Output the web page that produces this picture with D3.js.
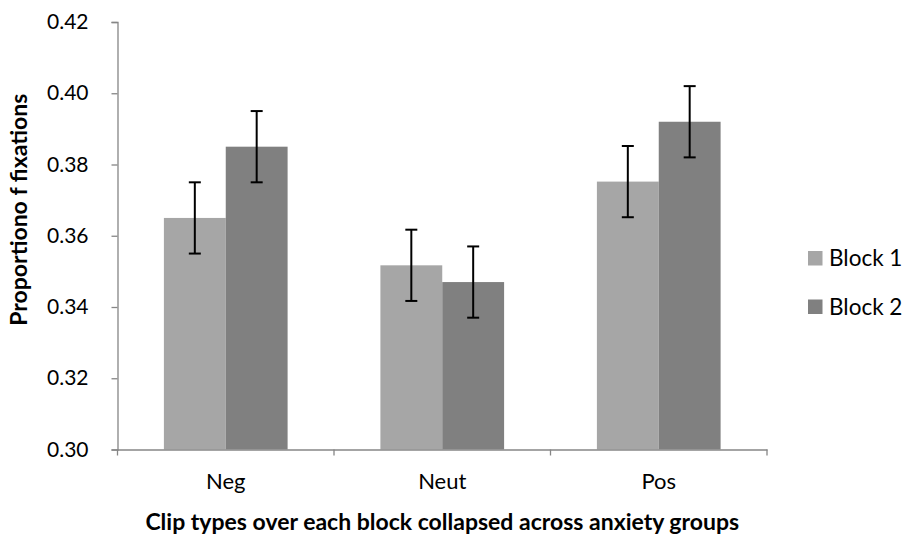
<html>
<script src="https://d3js.org/d3.v7.min.js"></script>
<style>
body{margin:0;background:#fff;}
text{font-family:Lato, "Open Sans", sans-serif;}
</style>
<body>
<div class="chart"></div>
</body>
<script>
const categories = ['Neg', 'Neut', 'Pos'];
const seriesNames = ['Block 1', 'Block 2'];
const block1 = [0.365, 0.3517, 0.3752];
const block2 = [0.385, 0.347, 0.392];
const errors1 = [0.010, 0.010, 0.010];
const errors2 = [0.010, 0.010, 0.010];
const yTicks = [0.30, 0.32, 0.34, 0.36, 0.38, 0.40, 0.42];
const colors = ['#a6a6a6', '#808080'];

const width = 911;
const height = 537;
const margin = {left: 117.5, right: 144, top: 22, bottom: 88};

const svg = d3.select('.chart').append('svg')
    .attr('width', width)
    .attr('height', height);

const x = d3.scaleBand()
    .domain(categories)
    .range([margin.left, width - margin.right]);

const inner = d3.scaleBand()
    .domain(seriesNames)
    .range([0, x.bandwidth()])
    .paddingOuter(0.75)
    .paddingInner(0);

const y = d3.scaleLinear()
    .domain([0.30, 0.42])
    .range([height - margin.bottom + 0.5, margin.top]);

const series = seriesNames.map((name, i) => ({
    name: name,
    color: colors[i],
    values: categories.map((c, j) => ({
        cat: c,
        value: [block1, block2][i][j],
        err: [errors1, errors2][i][j]
    }))
}));

// bars
svg.selectAll('g.series')
    .data(series)
    .enter()
    .append('g')
        .attr('class', 'series')
    .each(function(s){
        const g = d3.select(this);
        g.selectAll('rect')
            .data(s.values)
            .enter()
            .append('rect')
                .attr('x', d => x(d.cat) + inner(s.name))
                .attr('width', inner.bandwidth())
                .attr('y', d => y(d.value))
                .attr('height', d => y(0.30) - y(d.value))
                .attr('fill', s.color);
    });

// axes
const yAxis = d3.axisLeft(y)
    .tickValues(yTicks)
    .tickFormat(d3.format('.2f'))
    .tickSize(6)
    .tickPadding(23);

svg.append('g')
    .attr('transform', `translate(${margin.left},0)`)
    .call(yAxis)
    .call(g => {
        g.select('.domain').attr('stroke', '#868686').attr('stroke-width', 1.3);
        g.selectAll('.tick line').attr('stroke', '#868686').attr('stroke-width', 1.3);
        g.selectAll('.tick text')
            .attr('font-size', 21)
            .attr('fill', '#000')
            .style('font-family', 'Lato, sans-serif');
    });

const xAxis = d3.axisBottom(x)
    .tickSize(0)
    .tickPadding(24);

svg.append('g')
    .attr('transform', `translate(0,${y(0.30)})`)
    .call(xAxis)
    .call(g => {
        g.select('.domain').attr('stroke', '#868686').attr('stroke-width', 1.3);
        g.selectAll('.tick text')
            .attr('font-size', 22)
            .attr('fill', '#000')
            .style('font-family', 'Lato, sans-serif');
    });

// category separator ticks on x axis
svg.append('g')
    .selectAll('line')
    .data(categories.map(c => x(c)).concat([x(categories[categories.length - 1]) + x.bandwidth()]))
    .enter()
    .append('line')
        .attr('x1', d => d)
        .attr('x2', d => d)
        .attr('y1', y(0.30))
        .attr('y2', y(0.30) + 6)
        .attr('stroke', '#868686')
        .attr('stroke-width', 1.3);

// error bars
const errG = svg.append('g');
series.forEach(s => {
    s.values.forEach(d => {
        const cx = x(d.cat) + inner(s.name) + inner.bandwidth() / 2;
        const top = y(d.value + d.err);
        const bot = y(d.value - d.err);
        errG.append('line')
            .attr('x1', cx).attr('x2', cx)
            .attr('y1', top).attr('y2', bot)
            .attr('stroke', '#000').attr('stroke-width', 2);
        [top, bot].forEach(yy => {
            errG.append('line')
                .attr('x1', cx - 6).attr('x2', cx + 6)
                .attr('y1', yy).attr('y2', yy)
                .attr('stroke', '#000').attr('stroke-width', 2);
        });
    });
});

// axis titles
svg.append('text')
    .attr('transform', `translate(27,${(y(0.42) + y(0.30)) / 2 - 26}) rotate(-90)`)
    .attr('text-anchor', 'middle')
    .attr('font-size', 23)
    .attr('font-weight', 'bold')
    .text('Proportiono f fixations');

svg.append('text')
    .attr('x', (x.range()[0] + x.range()[1]) / 2)
    .attr('y', 530)
    .attr('text-anchor', 'middle')
    .attr('font-size', 23)
    .attr('font-weight', 'bold')
    .text('Clip types over each block collapsed across anxiety groups');

// legend
const legend = svg.append('g')
    .selectAll('g')
    .data(series)
    .enter()
    .append('g')
        .attr('transform', (d, i) => `translate(808,${251 + i * 48.5})`);

legend.append('rect')
    .attr('width', 14.5)
    .attr('height', 14.5)
    .attr('fill', d => d.color);

legend.append('text')
    .attr('x', 21)
    .attr('y', 15)
    .attr('font-size', 22.5)
    .text(d => d.name);
</script>
</html>
